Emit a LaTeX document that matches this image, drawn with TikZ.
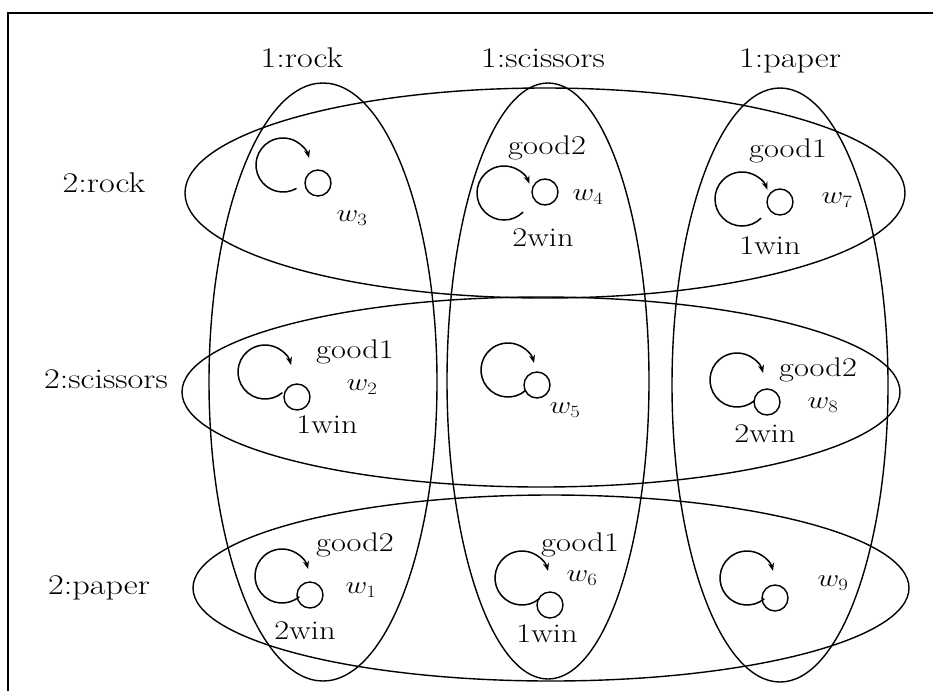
\documentclass[tikz,border=0pt]{standalone}
\usepackage{graphicx}
\usetikzlibrary{arrows.meta}
\newcommand\lb[1]{\scalebox{1.2}[1]{#1}}
\begin{document}
\begin{tikzpicture}[x=1pt,y=1pt,
  lbl/.style={font=\fontsize{27}{32}\selectfont, inner sep=0pt},
  hdr/.style={font=\fontsize{28.5}{34}\selectfont, inner sep=0pt, anchor=base},
  setell/.style={line width=1.4pt},
  world/.style={draw, circle, minimum size=26pt, inner sep=0pt, line width=1.4pt},
  refl/.style={line width=1.5pt, -{Stealth[length=8pt,width=6pt]}},
]
\useasboundingbox (0,0) rectangle (933,-691);
\draw[line width=2.8pt] (8,-691) -- (8,-13) -- (933,-13);

% set ellipses
\draw[setell] (323,-382) ellipse [x radius=114, y radius=299];
\draw[setell] (548,-381) ellipse [x radius=101, y radius=298];
\draw[setell] (780,-385) ellipse [x radius=108, y radius=297];
\draw[setell] (545,-193) ellipse [x radius=360, y radius=105];
\draw[setell] (541,-392) ellipse [x radius=359, y radius=95];
\draw[setell] (551,-588) ellipse [x radius=358, y radius=93];

% column / row labels
\node[hdr] (c1) at (302,-67) {\lb{1:rock}};
\node[hdr] (c2) at (543,-67) {\lb{1:scissors}};
\node[hdr] (c3) at (790,-67) {\lb{1:paper}};
\node[hdr] (r1) at (104,-192) {\lb{2:rock}};
\node[hdr] (r2) at (106,-388) {\lb{2:scissors}};
\node[hdr] (r3) at (99,-594) {\lb{2:paper}};

% w3
\node[world] (w3) at (318,-183) {};
\coordinate (a3) at (283,-165);
\draw[refl] (a3) ++(-60:27) arc[start angle=-60, end angle=-345, radius=27];
\node[lbl] (l3) at (352,-218) {\lb{$w_3$}};

% w4
\node[world] (w4) at (545,-192) {};
\coordinate (a4) at (504,-193);
\draw[refl] (a4) ++(-45:27) arc[start angle=-45, end angle=-340, radius=27];
\node[lbl] (g4) at (547,-148) {\lb{good2}};
\node[lbl] (l4) at (588,-197) {\lb{$w_4$}};
\node[lbl] (v4) at (543,-238) {\lb{2win}};

% w7
\node[world] (w7) at (780,-202) {};
\coordinate (a7) at (742,-199);
\draw[refl] (a7) ++(-45:27) arc[start angle=-45, end angle=-340, radius=27];
\node[lbl] (g7) at (788,-151) {\lb{good1}};
\node[lbl] (l7) at (837,-200) {\lb{$w_7$}};
\node[lbl] (v7) at (770,-246) {\lb{1win}};

% w2
\node[world] (w2) at (297,-397) {};
\coordinate (a2) at (265,-372);
\draw[refl] (a2) ++(-50:27) arc[start angle=-50, end angle=-345, radius=27];
\node[lbl] (g2) at (355,-352) {\lb{good1}};
\node[lbl] (l2) at (362,-387) {\lb{$w_2$}};
\node[lbl] (v2) at (327,-425) {\lb{1win}};

% w5
\node[world] (w5) at (537,-385) {};
\coordinate (a5) at (508,-370);
\draw[refl] (a5) ++(-50:27) arc[start angle=-50, end angle=-345, radius=27];
\node[lbl] (l5) at (565,-410) {\lb{$w_5$}};

% w8
\node[world] (w8) at (767,-402) {};
\coordinate (a8) at (737,-380);
\draw[refl] (a8) ++(-50:27) arc[start angle=-50, end angle=-345, radius=27];
\node[lbl] (g8) at (818,-370) {\lb{good2}};
\node[lbl] (l8) at (823,-405) {\lb{$w_8$}};
\node[lbl] (v8) at (765,-434) {\lb{2win}};

% w1
\node[world] (w1) at (310,-595) {};
\coordinate (a1) at (282,-576);
\draw[refl] (a1) ++(-50:27) arc[start angle=-50, end angle=-345, radius=27];
\node[lbl] (g1) at (355,-545) {\lb{good2}};
\node[lbl] (l1) at (361,-590) {\lb{$w_1$}};
\node[lbl] (v1) at (305,-631) {\lb{2win}};

% w6
\node[world] (w6) at (550,-605) {};
\coordinate (a6) at (522,-578);
\draw[refl] (a6) ++(-50:27) arc[start angle=-50, end angle=-345, radius=27];
\node[lbl] (g6) at (580,-545) {\lb{good1}};
\node[lbl] (l6) at (582,-578) {\lb{$w_6$}};
\node[lbl] (v6) at (547,-634) {\lb{1win}};

% w9
\node[world] (w9) at (775,-598) {};
\coordinate (a9) at (747,-578);
\draw[refl] (a9) ++(-50:27) arc[start angle=-50, end angle=-345, radius=27];
\node[lbl] (l9) at (833,-583) {\lb{$w_9$}};
\end{tikzpicture}
\end{document}
